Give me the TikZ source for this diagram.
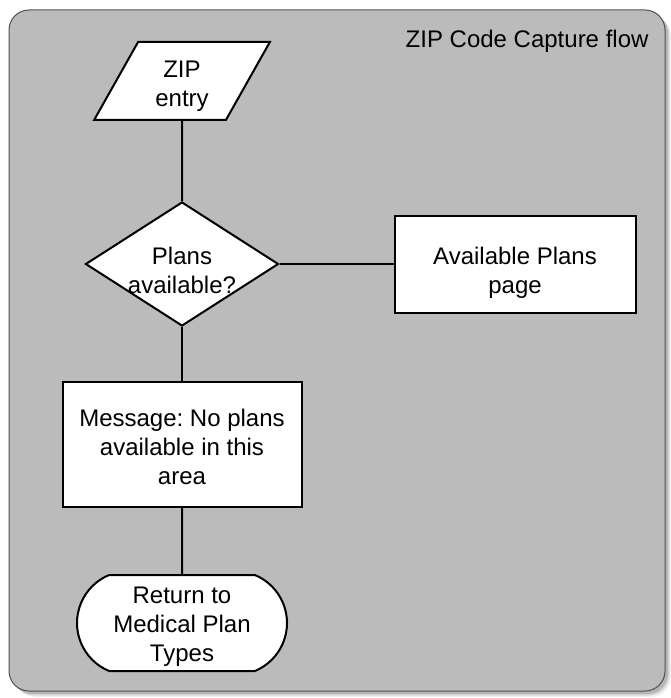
\documentclass[tikz,border=0pt]{standalone}
\usepackage{fontspec}
\setmainfont{Liberation Sans}
\usetikzlibrary{shapes, positioning}

\definecolor{framegray}{RGB}{187,187,187}
\definecolor{frameline}{RGB}{80,80,80}

\frenchspacing

\begin{document}
\begin{tikzpicture}[
        x=1pt, y=-1pt,
        every node/.style = {font=\fontsize{24}{29}\selectfont},
        box/.style = {
            rectangle,
            draw,
            fill=white,
            line width=2pt,
            align=center,
            inner sep=0pt
        },
        entry/.style = {
            box,
            trapezium,
            trapezium left angle=66,
            trapezium right angle=114,
            trapezium stretches,
            minimum width=176pt,
            minimum height=78pt
        },
        decision/.style = {
            box,
            diamond,
            aspect=1.556,
            inner sep=-5pt,
            minimum width=193pt,
            minimum height=124pt
        },
        terminal/.style = {
            box,
            rounded rectangle,
            rounded rectangle arc length=135,
            minimum width=210pt,
            minimum height=96pt
        },
        every edge/.style = {draw, line width=2pt}
    ]
        \useasboundingbox (0,0) rectangle (670,698);

        % frame with its soft shadow
        \foreach \s/\o in {6/0.06, 4.5/0.1, 3/0.16}
            \fill [black, opacity=\o, rounded corners=20pt] (9+\s,10+\s) rectangle (665+\s,691+\s);
        \draw [draw=frameline, fill=framegray, line width=1pt, rounded corners=20pt] (9,10) rectangle (665,691);
        \node [anchor=base east] (title) at (652,48) {ZIP Code Capture flow};

        \node [entry]     (zip)   at (182,81)                {\rule{0pt}{26pt}ZIP\\entry};
        \node [decision]  (plans) [below=80pt of zip]        {\rule{0pt}{31pt}Plans\\available?};
        \node [box, minimum width=241pt, minimum height=97pt]
                          (avail) [right=114pt of plans]     {\rule{0pt}{35pt}Available Plans\\page};
        \node [box, minimum width=239pt, minimum height=125pt]
                          (nomsg) [below=54pt of plans]      {\rule{0pt}{22pt}Message: No plans\\available in this\\area};
        \node [terminal]  (back)  [below=66pt of nomsg]      {\rule{0pt}{23pt}Return to\\Medical Plan\\Types};

        \path
            (zip)    edge  (plans)
            (plans)  edge  (avail)
                     edge  (nomsg)
            (nomsg)  edge  (back)
        ;
    \end{tikzpicture}
\end{document}
